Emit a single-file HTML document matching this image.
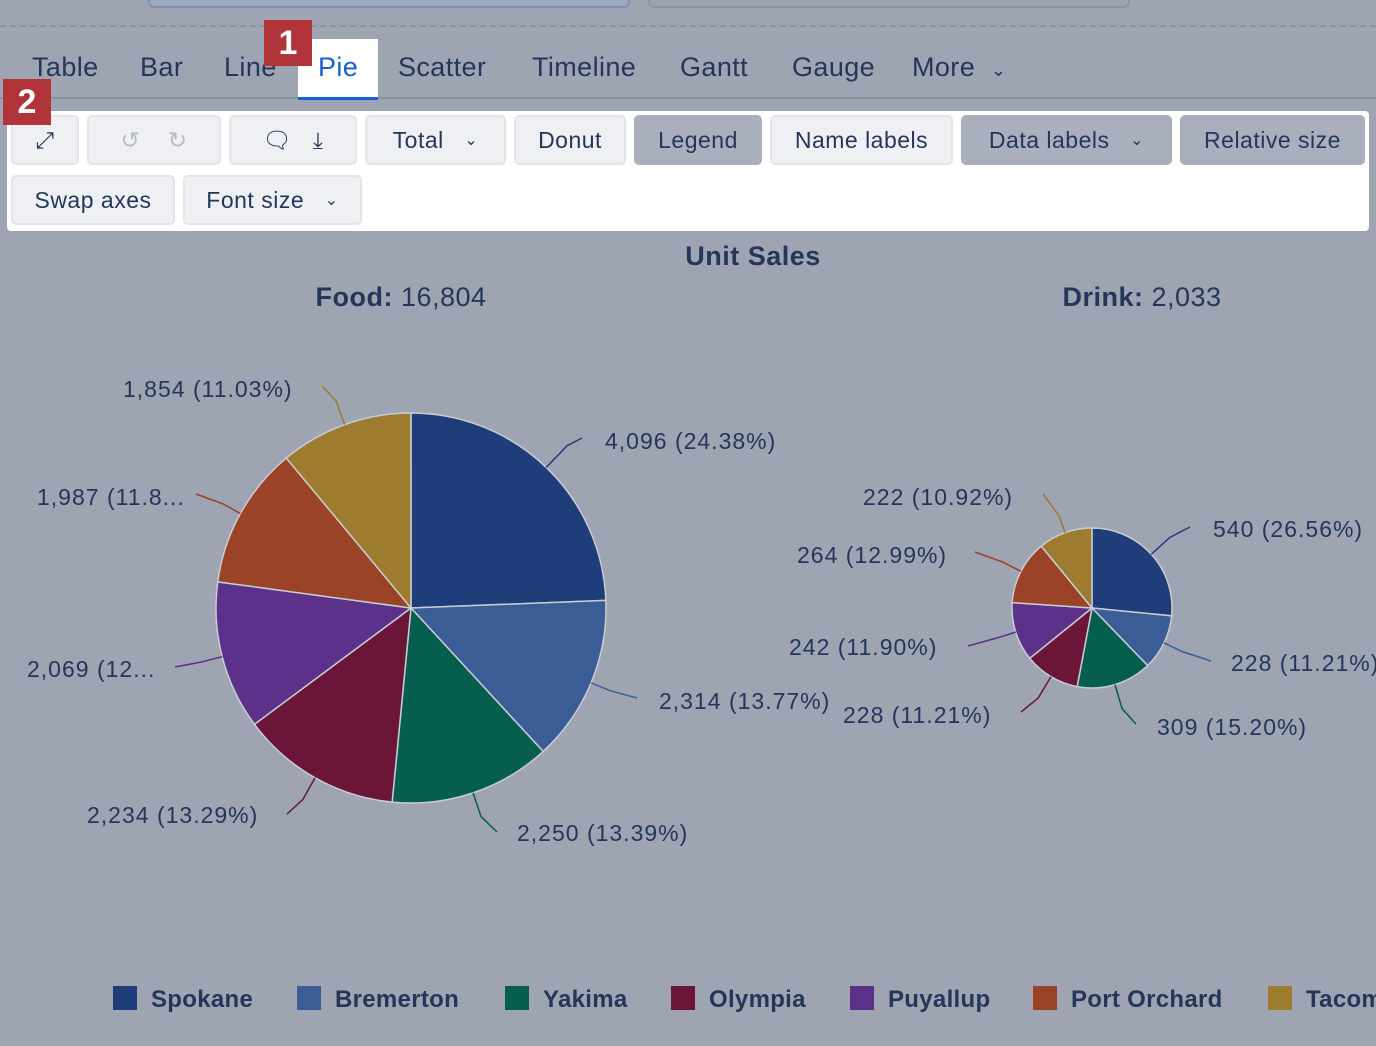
<!DOCTYPE html>
<html><head><meta charset="utf-8"><style>
body{margin:0;width:1376px;height:1046px;background:#9ea4b1;font-family:"Liberation Sans",sans-serif;position:relative;overflow:hidden;color:#25365a}
.a{position:absolute}
.tab{position:absolute;top:52px;font-size:27px;color:#25365a;letter-spacing:0.4px}
.btn{position:absolute;height:50px;border:2px solid #e2e5ea;background:#eef0f3;border-radius:5px;box-sizing:border-box;font-size:23px;color:#25365a;display:flex;align-items:center;justify-content:center;letter-spacing:0.5px}
.on{background:#a9afbc;border-color:#a9afbc}
.badge{position:absolute;background:#b0343a;color:#fff;font-weight:bold;font-size:34px;width:48px;height:46px;display:flex;align-items:center;justify-content:center}
</style></head><body>
<div class="a" style="left:148px;top:-10px;width:478px;height:14px;border:2px solid #7e92b6;border-radius:6px;background:#9fa9bd"></div>
<div class="a" style="left:648px;top:-10px;width:478px;height:14px;border:2px solid #8d95a3;border-radius:6px"></div>
<div class="a" style="left:0;top:25px;width:1376px;border-top:2px dashed #8a93a3"></div>
<div class="a" style="left:0;top:97px;width:1376px;border-top:2px solid #8891a1"></div>
<div class="a" style="left:298px;top:39px;width:80px;height:58px;background:#fff;border-bottom:3px solid #1a5fd0"></div>
<div class="tab" style="left:32px">Table</div><div class="tab" style="left:140px">Bar</div><div class="tab" style="left:224px">Line</div>
<div class="tab" style="left:318px;color:#1a5fd0">Pie</div><div class="tab" style="left:398px">Scatter</div><div class="tab" style="left:532px">Timeline</div>
<div class="tab" style="left:680px">Gantt</div><div class="tab" style="left:792px">Gauge</div><div class="tab" style="left:912px">More &nbsp;<span style="font-size:18px">&#8964;</span></div>
<div class="badge" style="left:264px;top:20px">1</div>
<div class="a" style="left:7px;top:111px;width:1362px;height:120px;background:#fff;border-radius:4px"></div>
<div class="btn" style="left:11px;top:115px;width:68px">&#10530;</div>
<div class="btn" style="left:87px;top:115px;width:134px;color:#b7bcc6">&#8634; &nbsp;&nbsp; &#8635;</div>
<div class="btn" style="left:229px;top:115px;width:128px">&#128488;&nbsp;&nbsp;&nbsp;⤓</div>
<div class="btn" style="left:365px;top:115px;width:141px">Total &nbsp;&nbsp;<span style="font-size:16px">&#8964;</span></div>
<div class="btn" style="left:514px;top:115px;width:112px">Donut</div>
<div class="btn on" style="left:634px;top:115px;width:128px">Legend</div>
<div class="btn" style="left:770px;top:115px;width:183px">Name labels</div>
<div class="btn on" style="left:961px;top:115px;width:211px">Data labels &nbsp;&nbsp;<span style="font-size:16px">&#8964;</span></div>
<div class="btn on" style="left:1180px;top:115px;width:185px">Relative size</div>
<div class="btn" style="left:11px;top:175px;width:164px">Swap axes</div>
<div class="btn" style="left:183px;top:175px;width:179px">Font size &nbsp;&nbsp;<span style="font-size:16px">&#8964;</span></div>
<div class="badge" style="left:3px;top:79px">2</div>
<svg class="a" style="left:0;top:0" width="1376" height="1046" id="s" font-family="Liberation Sans" font-size="23" fill="#25365a" letter-spacing="1">
<text x="753" y="265" text-anchor="middle" font-weight="bold" font-size="27" letter-spacing="0.5">Unit Sales</text>
<text x="401" y="306" text-anchor="middle" font-size="27" letter-spacing="0.5"><tspan font-weight="bold">Food:</tspan> 16,804</text>
<text x="1142" y="306" text-anchor="middle" font-size="27" letter-spacing="0.5"><tspan font-weight="bold">Drink:</tspan> 2,033</text>
<g id="p"></g>
<text x="123" y="397">1,854 (11.03%)</text>
<text x="37" y="505">1,987 (11.8...</text>
<text x="27" y="677">2,069 (12...</text>
<text x="87" y="823">2,234 (13.29%)</text>
<text x="517" y="841">2,250 (13.39%)</text>
<text x="659" y="709">2,314 (13.77%)</text>
<text x="605" y="449">4,096 (24.38%)</text>
<text x="863" y="505">222 (10.92%)</text>
<text x="797" y="563">264 (12.99%)</text>
<text x="789" y="655">242 (11.90%)</text>
<text x="843" y="723">228 (11.21%)</text>
<text x="1157" y="735">309 (15.20%)</text>
<text x="1231" y="671">228 (11.21%)</text>
<text x="1213" y="537">540 (26.56%)</text>
<g font-size="24" font-weight="bold" letter-spacing="0.3">
<rect x="113" y="986" width="24" height="24" fill="#1f3d78"/><text x="151" y="1007">Spokane</text>
<rect x="297" y="986" width="24" height="24" fill="#3a5d96"/><text x="335" y="1007">Bremerton</text>
<rect x="505" y="986" width="24" height="24" fill="#065e4f"/><text x="543" y="1007">Yakima</text>
<rect x="671" y="986" width="24" height="24" fill="#6b1538"/><text x="709" y="1007">Olympia</text>
<rect x="850" y="986" width="24" height="24" fill="#5b318a"/><text x="888" y="1007">Puyallup</text>
<rect x="1033" y="986" width="24" height="24" fill="#9a4326"/><text x="1071" y="1007">Port Orchard</text>
<rect x="1268" y="986" width="24" height="24" fill="#9d7b2f"/><text x="1306" y="1007">Tacoma</text>
</g>
</svg>
<script>
var C=["#1f3d78","#3a5d96","#065e4f","#6b1538","#5b318a","#9a4326","#9d7b2f"];
function pie(cx,cy,r,v,lines){var g=document.getElementById('p'),a=0,h='';
for(var i=0;i<v.length;i++){var b=a+v[i]/100*2*Math.PI;
var x1=cx+r*Math.sin(a),y1=cy-r*Math.cos(a),x2=cx+r*Math.sin(b),y2=cy-r*Math.cos(b);
h+='<path d="M'+cx+','+cy+'L'+x1+','+y1+'A'+r+','+r+' 0 '+((b-a)>Math.PI?1:0)+' 1 '+x2+','+y2+'Z" fill="'+C[i]+'" stroke="#c8ccd4" stroke-width="1.5"/>';
var m=(a+b)/2,l=lines[i];h+='<polyline fill="none" stroke="'+C[i]+'" stroke-width="1.5" points="'+(cx+r*Math.sin(m))+','+(cy-r*Math.cos(m))+' '+(cx+(r+l[0])*Math.sin(m))+','+(cy-(r+l[0])*Math.cos(m))+' '+l[1]+','+l[2]+'"/>';
a=b;}g.innerHTML+=h;}
pie(411,608,195,[24.38,13.77,13.39,13.29,12.31,11.82,11.03],[[30,582,438],[20,637,698],[25,497,832],[25,287,814],[22,175,667],[20,196,494],[25,322,386]]);
pie(1092,608,80,[26.56,11.21,15.2,11.21,11.9,12.99,10.92],[[25,1190,527],[20,1211,661],[25,1136,724],[25,1021,712],[18,968,646],[20,975,552],[18,1043,494]]);
</script>
</body></html>
